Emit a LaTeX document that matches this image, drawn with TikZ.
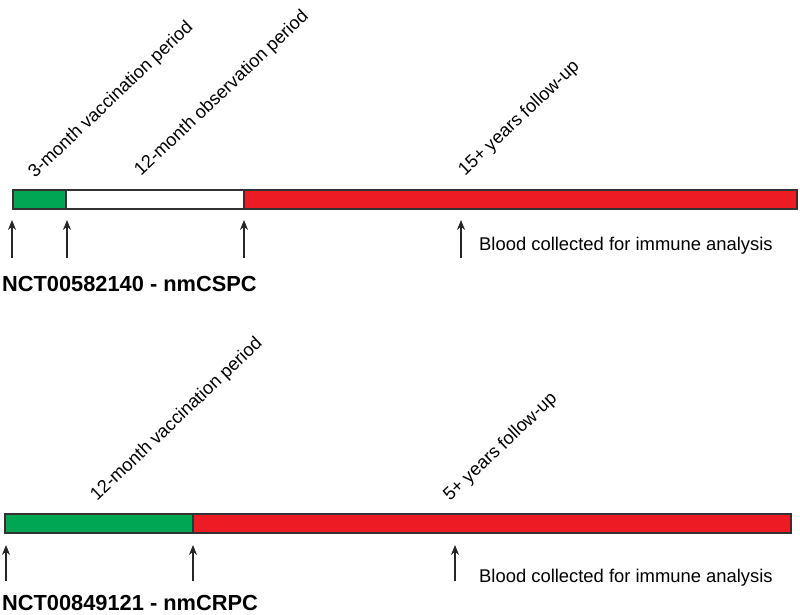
\documentclass[tikz,border=0pt]{standalone}
\usepackage{fontspec}
\setmainfont{Liberation Sans}
\usetikzlibrary{arrows.meta}
\definecolor{barGreen}{RGB}{0,166,81}
\definecolor{barRed}{RGB}{237,28,36}
\definecolor{barEdge}{RGB}{50,50,50}
\begin{document}
\begin{tikzpicture}[x=1pt,y=-1pt,
  seg/.style={draw=barEdge, line width=1.1pt, inner sep=0, outer sep=0, minimum height=19pt, anchor=north west},
  marker/.style={draw=black!85, line width=1.1pt, -{Stealth[length=10pt,width=8pt]}},
  period/.style={font=\fontsize{18.2}{18.2}\selectfont, rotate=43.5, anchor=base west, inner sep=0},
  note/.style={font=\fontsize{18.4}{18.4}\selectfont, anchor=base west, inner sep=0},
  trial/.style={font=\fontsize{21.8}{21.8}\selectfont\bfseries, anchor=base west, inner sep=0}]
\useasboundingbox (0,0) rectangle (800,615);
% ---- trial 1 ----
\node[seg, fill=barGreen, minimum width=53pt] (g1) at (13,190) {};
\node[seg, fill=white, minimum width=178pt] (w1) at (66,190) {};
\node[seg, fill=barRed, minimum width=553pt] (r1) at (244,190) {};
\node[period] (p1) at (35,179) {3-month vaccination period};
\node[period] (p2) at (141,177) {12-month observation period};
\node[period] (p3) at (465,177) {15+ years follow-up};
\coordinate (a1s) at (12,258); \coordinate (a1e) at (12,220);
\coordinate (a2s) at (67,258); \coordinate (a2e) at (67,220);
\coordinate (a3s) at (244,258); \coordinate (a3e) at (244,220);
\coordinate (a4s) at (461,258); \coordinate (a4e) at (461,220);
\draw[marker] (a1s) -- (a1e);
\draw[marker] (a2s) -- (a2e);
\draw[marker] (a3s) -- (a3e);
\draw[marker] (a4s) -- (a4e);
\node[note] (n1) at (479,250) {Blood collected for immune analysis};
\node[trial] (t1) at (2,291) {NCT00582140 - nmCSPC};
% ---- trial 2 ----
\node[seg, fill=barGreen, minimum width=188pt] (g2) at (5,514) {};
\node[seg, fill=barRed, minimum width=598pt] (r2) at (193,514) {};
\node[period] (p4) at (97,502) {12-month vaccination period};
\node[period] (p5) at (450,502) {5+ years follow-up};
\coordinate (b1s) at (6,581); \coordinate (b1e) at (6,545);
\coordinate (b2s) at (193,581); \coordinate (b2e) at (193,545);
\coordinate (b3s) at (455,581); \coordinate (b3e) at (455,545);
\draw[marker] (b1s) -- (b1e);
\draw[marker] (b2s) -- (b2e);
\draw[marker] (b3s) -- (b3e);
\node[note] (n2) at (479,582) {Blood collected for immune analysis};
\node[trial] (t2) at (2,610) {NCT00849121 - nmCRPC};
\end{tikzpicture}
\end{document}
